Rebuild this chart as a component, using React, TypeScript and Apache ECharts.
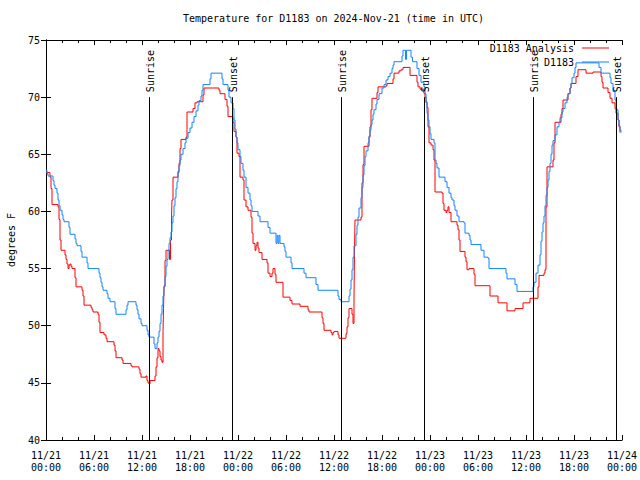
import React, { useEffect, useRef } from "react";
import * as echarts from "echarts";

const FONT = '"DejaVu Sans Mono", monospace';

const chartTitle = "Temperature for D1183 on 2024-Nov-21 (time in UTC)";
const seriesNames = ["D1183 Analysis", "D1183"];
const yAxisName = "degrees F";

// hours since 11/21 00:00 UTC, temperature (F)
const analysisData: [number, number][] = [
  [0, 63.4], [0.5, 63.0], [0.625, 62.0], [0.75, 60.6], [1.5, 60.4], [1.625, 59.3], [1.75, 57.5], [1.875, 56.6],
  [2.375, 56.2], [2.5, 55.8], [2.625, 55.4], [2.75, 55.0], [2.875, 55.3], [3.0, 55.4], [3.125, 55.2], [3.25, 55.0],
  [3.625, 54.2], [3.75, 53.4], [4.5, 53.1], [4.625, 52.6], [4.75, 51.8], [5.625, 51.6], [5.75, 51.4], [5.875, 51.2],
  [6.5, 51.0], [6.625, 50.3], [6.75, 49.4], [7.25, 49.2], [7.5, 48.9], [7.625, 48.6], [8.5, 48.3], [8.625, 47.8],
  [8.75, 47.2], [9.5, 47.0], [9.625, 46.7], [10.625, 46.5], [10.75, 46.4], [11.625, 46.2], [11.75, 45.8], [11.875, 45.5],
  [12.5, 45.6], [12.625, 45.2], [12.75, 45.0], [12.875, 44.9], [13.0, 45.2], [13.625, 45.6], [13.75, 46.4], [13.875, 47.2],
  [14.0, 48.0], [14.125, 47.8], [14.25, 47.3], [14.375, 47.0], [14.5, 46.8], [14.625, 49.5], [14.69, 51.5], [14.75, 53.4],
  [14.875, 55.7], [15.0, 56.6], [15.44, 55.8], [15.56, 57.5], [15.69, 59.5], [15.75, 61.0], [15.875, 63.0], [16.5, 63.5],
  [16.625, 64.2], [16.75, 65.5], [16.875, 66.3], [17.5, 66.5], [17.625, 68.7], [18.375, 69.0], [18.625, 69.5], [18.875, 69.6],
  [19.625, 70.2], [19.75, 70.8], [21.625, 70.6], [21.75, 70.3], [22.375, 69.8], [22.625, 69.2], [22.75, 68.3], [23.375, 67.8],
  [23.5, 67.0], [23.75, 66.5], [23.875, 65.1], [24.125, 64.8], [24.25, 63.0], [24.625, 62.75], [24.75, 61.0], [25.0, 60.4],
  [25.25, 60.1], [25.625, 59.5], [25.75, 58.1], [25.875, 57.2], [26.125, 56.6], [26.25, 57.0], [26.375, 57.3], [26.5, 56.8],
  [26.625, 56.4], [27.0, 55.8], [27.625, 55.5], [27.75, 54.6], [28.0, 54.3], [28.25, 54.6], [28.375, 55.0], [28.625, 54.5],
  [28.75, 53.8], [29.625, 52.5], [30.5, 52.2], [30.75, 51.9], [31.75, 51.7], [32.75, 51.4], [32.875, 51.2], [34.5, 50.7],
  [34.625, 50.2], [34.75, 49.6], [35.625, 49.4], [35.75, 49.2], [35.875, 49.4], [36.0, 49.5], [36.5, 49.2], [36.625, 48.9],
  [37.5, 49.3], [37.625, 49.9], [37.75, 50.7], [37.875, 51.5], [38.25, 51.0], [38.375, 50.2], [38.5, 52.4], [38.56, 56.4],
  [38.625, 59.25], [39.375, 59.5], [39.5, 62.5], [39.625, 64.1], [39.75, 65.7], [40.375, 66.5], [40.5, 67.4], [40.625, 68.9],
  [40.75, 69.9], [41.375, 70.4], [41.5, 70.9], [42.5, 71.0], [42.625, 71.2], [43.375, 71.6], [43.5, 72.1], [44.125, 72.3],
  [44.375, 72.4], [44.625, 72.6], [45.5, 71.9], [46.375, 71.3], [46.5, 70.9], [46.75, 70.7], [47.25, 70.3], [47.375, 70.0],
  [47.5, 69.6], [47.625, 69.1], [47.75, 67.4], [47.875, 66.0], [48.125, 65.8], [48.375, 65.4], [48.5, 64.5], [48.625, 61.7],
  [49.5, 61.6], [49.625, 60.7], [49.75, 60.1], [50.0, 59.9], [50.125, 60.1], [50.25, 60.4], [50.375, 59.9], [50.625, 59.1],
  [51.375, 58.8], [51.5, 58.4], [51.625, 57.5], [51.75, 56.5], [52.375, 56.0], [52.5, 55.6], [52.625, 54.9], [52.875, 55.0],
  [53.5, 54.5], [53.625, 53.5], [55.5, 52.6], [56.5, 52.0], [57.625, 51.3], [58.625, 51.5], [59.625, 52.0], [60.5, 52.4],
  [61.5, 53.4], [61.625, 54.4], [62.25, 54.6], [62.375, 54.9], [62.5, 60.4], [62.625, 63.9], [63.375, 64.5], [63.5, 66.0],
  [63.625, 67.8], [64.375, 68.5], [64.5, 69.0], [64.625, 69.75], [65.25, 70.3], [65.5, 70.8], [65.625, 71.2], [66.25, 71.8],
  [66.5, 72.4], [67.5, 72.1], [68.375, 72.2], [69.375, 71.8], [69.5, 71.3], [69.625, 70.8], [70.25, 70.4], [70.5, 69.9],
  [70.75, 69.5], [71.125, 69.0], [71.25, 68.6], [71.5, 68.0], [71.625, 67.4], [71.75, 66.9],
];

const observedData: [number, number][] = [
  [0, 63.6], [0.125, 63.3], [0.25, 63.1], [0.875, 62.7], [1, 62.3], [1.125, 62.0], [1.375, 61.6], [1.5, 61.0],
  [1.625, 60.5], [1.75, 60.1], [2, 59.7], [2.125, 59.3], [2.25, 59.1], [2.875, 58.6], [3, 58.0], [3.625, 57.6],
  [3.75, 57.2], [3.875, 57.0], [4.375, 56.5], [4.5, 56.0], [5.125, 55.5], [5.25, 55.0], [6.625, 54.6], [6.75, 54.2],
  [6.875, 53.8], [7, 53.4], [7.125, 53.1], [7.625, 52.8], [7.75, 52.4], [8, 52.1], [8.625, 51.5], [8.75, 51.0],
  [10, 51.4], [10.125, 51.8], [10.25, 52.1], [11.25, 51.8], [11.375, 51.4], [11.5, 51.0], [11.625, 50.6], [11.875, 50.2],
  [12, 50.0], [12.625, 49.6], [12.75, 49.2], [12.875, 49.0], [13.5, 48.4], [13.625, 48.0], [13.875, 48.5], [14, 49.0],
  [14.125, 49.5], [14.25, 50.2], [14.375, 51.0], [14.5, 51.8], [14.625, 52.6], [14.75, 53.5], [14.875, 54.3], [15, 55.2],
  [15.125, 55.8], [15.25, 56.6], [15.375, 57.2], [15.5, 57.7], [15.625, 58.2], [15.75, 59.0], [15.875, 59.6], [16, 60.5],
  [16.125, 61.2], [16.25, 62.0], [16.375, 62.6], [16.5, 63.4], [16.625, 64.0], [16.75, 64.5], [16.875, 65.0], [17.125, 65.5],
  [17.375, 66.0], [17.5, 66.4], [17.75, 66.9], [18, 67.3], [18.25, 67.8], [18.5, 68.3], [18.75, 68.8], [19, 69.3],
  [19.125, 69.7], [19.375, 70.1], [19.5, 70.6], [19.625, 71.1], [20.5, 71.6], [20.625, 72.1], [22, 71.6], [22.125, 71.1],
  [22.75, 70.6], [22.875, 70.0], [23.125, 69.5], [23.375, 69.0], [23.5, 68.0], [23.625, 67.2], [23.75, 66.5], [23.875, 66.0],
  [24, 65.4], [24.25, 64.8], [24.375, 64.2], [24.625, 63.6], [24.75, 63.0], [25, 62.1], [25.25, 61.6], [25.5, 61.0],
  [25.625, 60.5], [25.75, 60.0], [26.5, 59.6], [26.75, 59.1], [27.75, 58.6], [28, 58.1], [28.75, 57.2], [28.875, 57.9],
  [29, 57.2], [29.125, 57.9], [29.25, 57.2], [29.75, 56.9], [29.875, 56.5], [30, 56.0], [30.625, 55.5], [30.75, 55.0],
  [32.25, 54.6], [32.5, 54.2], [33.75, 53.6], [34, 53.1], [36.5, 52.6], [36.625, 52.3], [36.875, 52.1], [37.875, 52.6],
  [38, 53.2], [38.125, 54.0], [38.25, 54.9], [38.375, 56.0], [38.5, 57.0], [38.75, 58.0], [38.875, 58.8], [39, 59.5],
  [39.125, 60.3], [39.375, 61.2], [39.5, 62.1], [39.625, 63.2], [39.75, 64.0], [39.875, 64.8], [40, 65.3], [40.25, 66.0],
  [40.375, 66.6], [40.5, 67.1], [40.625, 67.6], [40.75, 68.0], [40.875, 68.5], [41, 68.9], [41.25, 69.4], [41.375, 69.8],
  [41.625, 70.3], [42, 70.8], [42.25, 71.1], [42.5, 71.5], [42.75, 71.8], [43, 72.1], [43.25, 72.5], [43.375, 72.8],
  [43.5, 73.1], [44.5, 73.6], [44.625, 74.1], [44.94, 73.3], [45.06, 74.1], [45.625, 73.5], [45.81, 73.1], [46.375, 72.5],
  [46.625, 71.9], [46.875, 71.3], [47.25, 70.9], [47.375, 70.3], [47.5, 69.5], [47.625, 68.6], [47.75, 68.0], [47.875, 67.4],
  [48, 66.8], [48.125, 66.3], [48.5, 66.0], [48.625, 64.5], [48.75, 64.2], [48.875, 63.8], [49.125, 63.0], [49.875, 62.6],
  [50.125, 62.1], [50.375, 61.6], [50.625, 61.2], [50.75, 61.0], [51, 60.5], [51.125, 60.1], [51.375, 59.6], [51.625, 59.1],
  [52.25, 59.0], [52.375, 58.1], [52.875, 57.9], [53, 57.5], [53.125, 57.1], [54.375, 56.6], [54.75, 56.0], [55.25, 55.9],
  [55.375, 55.0], [57.5, 54.6], [57.625, 54.1], [58.625, 53.6], [58.875, 53.0], [60.875, 53.4], [61, 53.8], [61.25, 54.6],
  [61.5, 55.3], [61.75, 56.2], [61.875, 57.4], [62, 58.2], [62.125, 59.0], [62.25, 59.6], [62.375, 60.5], [62.5, 61.4],
  [62.625, 62.1], [62.75, 62.75], [62.875, 63.5], [63, 64.2], [63.125, 65.0], [63.25, 65.8], [63.375, 66.2], [63.625, 66.7],
  [63.875, 67.4], [64.125, 67.8], [64.25, 68.2], [64.5, 68.7], [64.625, 69.0], [64.875, 69.5], [65.125, 70.0], [65.25, 70.3],
  [65.5, 70.8], [65.625, 71.2], [65.75, 71.7], [66, 72.1], [66.125, 72.6], [66.25, 73.0], [69.125, 72.6], [69.375, 72.1],
  [70.5, 71.7], [70.625, 71.2], [70.875, 70.5], [71.125, 69.75], [71.25, 68.9], [71.5, 68.0], [71.625, 67.5], [71.75, 67.1],
  [71.875, 66.9],
];

const sunEventHours = [12.87, 23.3, 36.88, 47.29, 60.9, 71.27];
const sunEventLabels = ["Sunrise", "Sunset", "Sunrise", "Sunset", "Sunrise", "Sunset"];
const sunLineTop = 70;

const xMin = 0;
const xMax = 72;
const xStep = 6;
const yMin = 40;
const yMax = 75;
const yStep = 5;

function xLabel(v: number): string {
  const day = 21 + Math.floor(v / 24);
  const hh = v % 24;
  return `11/${day}\n${hh < 10 ? "0" + hh : hh}:00`;
}

export default function App() {
  const ref = useRef<HTMLDivElement>(null);
  useEffect(() => {
    if (!ref.current) return;
    const chart = echarts.init(ref.current, null, { renderer: "svg" });
    const txt = { fontFamily: FONT, fontSize: 10, color: "#000" };
    const axisLine = { show: true, lineStyle: { color: "#000", width: 1 } };
    const xBase = {
      type: "value",
      min: xMin,
      max: xMax,
      interval: xStep,
      axisLine,
      axisTick: { show: true, inside: true, length: 5, lineStyle: { color: "#000" } },
      minorTick: { show: true, splitNumber: 3, length: 3, lineStyle: { color: "#000" } },
      splitLine: { show: false },
    };
    const yBase = {
      type: "value",
      min: yMin,
      max: yMax,
      interval: yStep,
      axisLine,
      axisTick: { show: true, inside: true, length: 5, lineStyle: { color: "#000" } },
      splitLine: { show: false },
    };
    const legendBase = {
      right: 31,
      align: "right",
      orient: "horizontal",
      icon: "rect",
      itemWidth: 27,
      itemHeight: 1,
      padding: 0,
      selectedMode: false,
      textStyle: { ...txt, padding: [0, 3, 0, 0] },
    };
    chart.setOption({
      animation: false,
      backgroundColor: "#fff",
      title: {
        text: chartTitle,
        left: 183,
        top: 13,
        padding: 0,
        textStyle: { ...txt, fontWeight: "normal" },
      },
      legend: [
        { ...legendBase, data: [seriesNames[0]], top: 43 },
        { ...legendBase, data: [seriesNames[1]], top: 57 },
      ],
      grid: { left: 46, right: 18, top: 40, bottom: 40, containLabel: false, outerBoundsMode: "none" },
      xAxis: [
        {
          ...xBase,
          position: "bottom",
          axisLabel: { ...txt, margin: 9, lineHeight: 12, formatter: xLabel },
        },
        { ...xBase, position: "top", axisLabel: { show: false } },
      ],
      yAxis: [
        {
          ...yBase,
          position: "left",
          name: yAxisName,
          nameLocation: "middle",
          nameGap: 30,
          nameRotate: 90,
          nameTextStyle: txt,
          axisLabel: { ...txt, margin: 6 },
        },
        { ...yBase, position: "right", axisLabel: { show: false } },
      ],
      series: [
        {
          name: seriesNames[0],
          type: "line",
          step: "end",
          data: analysisData,
          showSymbol: false,
          symbol: "none",
          color: "#ff0000",
          lineStyle: { width: 1, color: "#ff0000" },
          z: 3,
        },
        {
          name: seriesNames[1],
          type: "line",
          step: "end",
          data: observedData,
          showSymbol: false,
          symbol: "none",
          color: "#1484ff",
          lineStyle: { width: 1, color: "#1484ff" },
          z: 4,
        },
        {
          name: "sun",
          type: "custom",
          silent: true,
          z: 5,
          data: sunEventHours.map((h) => [h]),
          encode: { x: 0 },
          renderItem: (params: any, api: any) => {
            const h = api.value(0);
            const top = api.coord([h, sunLineTop]);
            const bot = api.coord([h, yMin]);
            const x = Math.round(top[0]) + 0.5;
            return {
              type: "group",
              children: [
                {
                  type: "line",
                  shape: { x1: x, y1: top[1], x2: x, y2: bot[1] },
                  style: { stroke: "#000", lineWidth: 1 },
                },
                {
                  type: "text",
                  x: x + 1,
                  y: top[1] - 5,
                  rotation: Math.PI / 2,
                  style: {
                    text: sunEventLabels[params.dataIndex],
                    fill: "#000",
                    font: `10px ${FONT}`,
                    align: "left",
                    verticalAlign: "middle",
                    textAlign: "left",
                    textVerticalAlign: "middle",
                  },
                },
              ],
            };
          },
        },
      ],
    });
    return () => chart.dispose();
  }, []);
  return (
    <div
      ref={ref}
      style={{ position: "fixed", left: 0, top: 0, width: 640, height: 480, background: "#fff" }}
    />
  );
}
